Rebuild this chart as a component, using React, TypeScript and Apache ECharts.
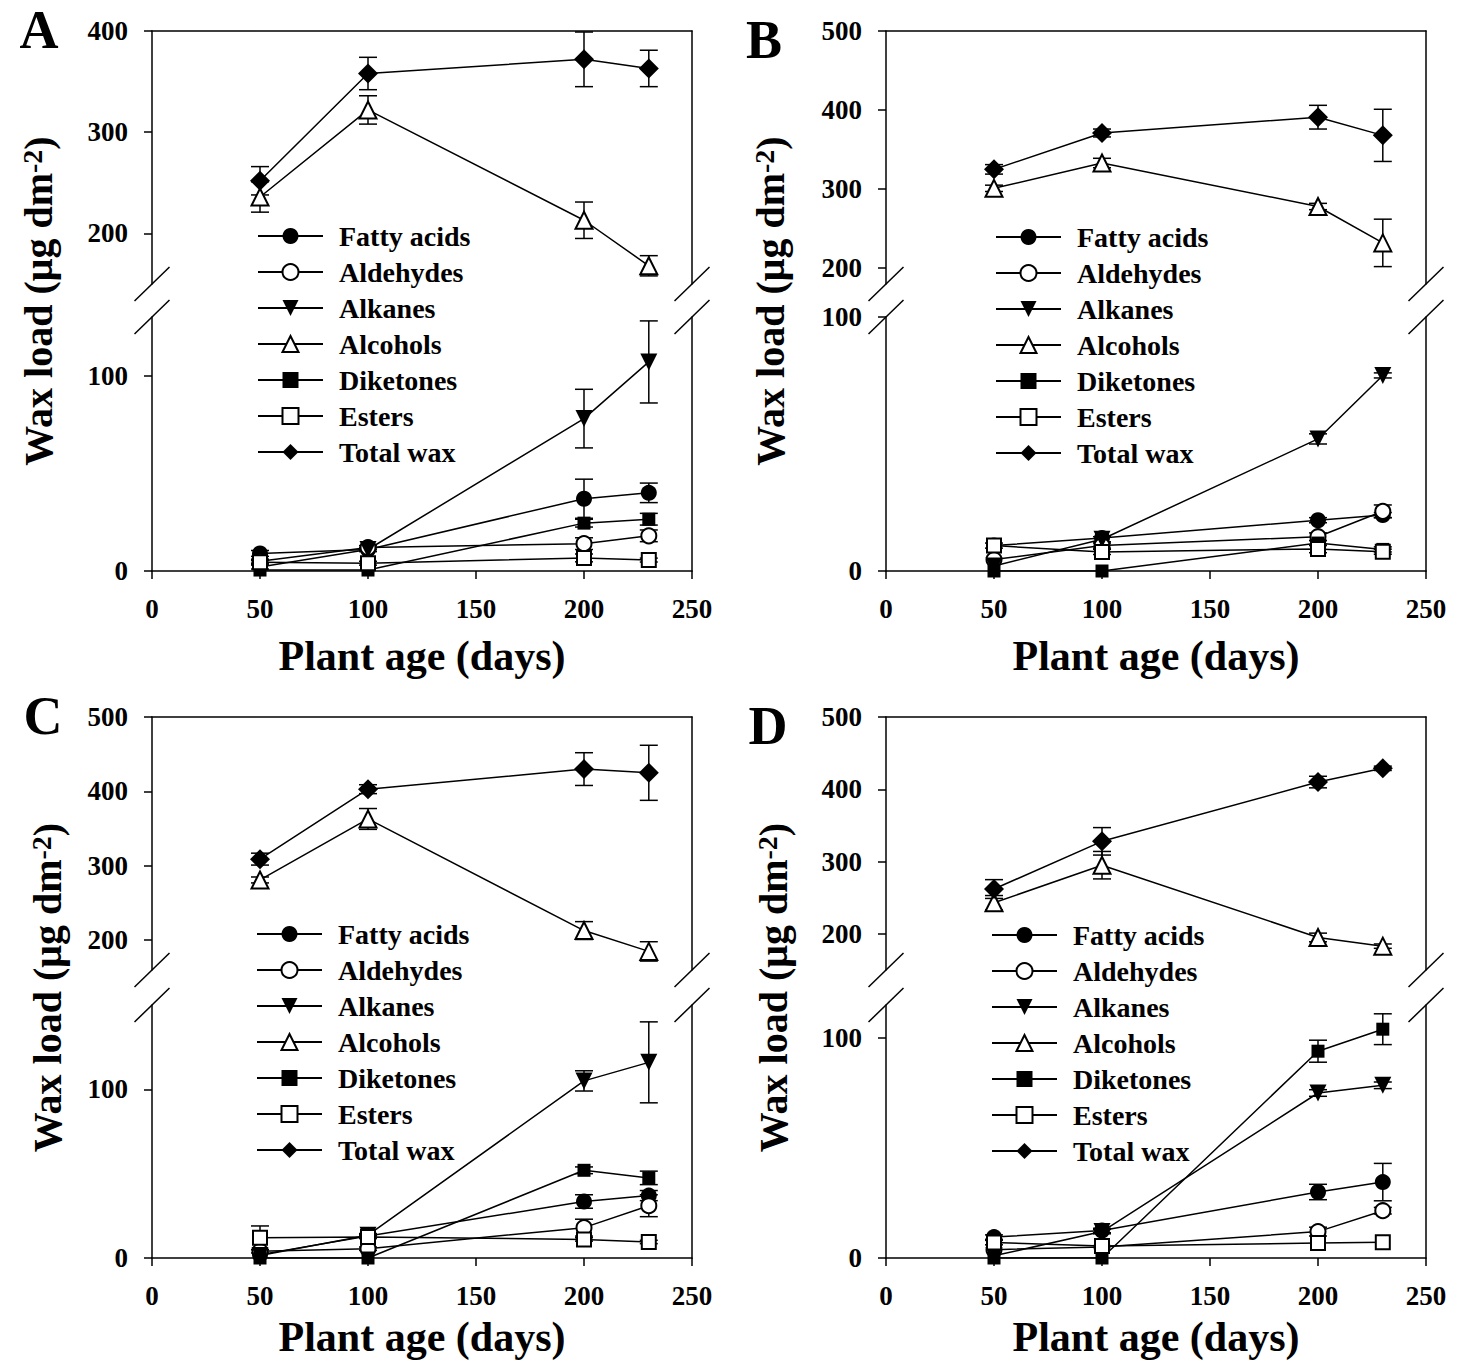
import React, { useEffect, useRef } from 'react';
import * as echarts from 'echarts';

const FONT = '"Liberation Serif", "Times New Roman", Times, serif';

const AGES = [50, 100, 200, 230];
const SERIES_NAMES = ['Fatty acids', 'Aldehydes', 'Alkanes', 'Alcohols', 'Diketones', 'Esters', 'Total wax'];
const LOWER_TICKS = [0, 100];
const UPPER_TICKS_A = [200, 300, 400];
const UPPER_TICKS_BCD = [200, 300, 400, 500];

// Panel A (means, error)
const A_FATTY = [9, 11, 37, 40];
const A_FATTY_ERR = [1.5, 1, 10, 5];
const A_ALDEHYDES = [5, 12, 14, 18];
const A_ALDEHYDES_ERR = [1, 1, 3, 3];
const A_ALKANES = [2, 11, 78, 107];
const A_ALKANES_ERR = [1, 1, 15, 21];
const A_ALCOHOLS = [236, 322, 213, 168];
const A_ALCOHOLS_ERR = [15, 14, 18, 10];
const A_DIKETONES = [0.5, 0.5, 24.5, 26.5];
const A_DIKETONES_ERR = [0.5, 0.5, 2, 3];
const A_ESTERS = [4.5, 4, 6.7, 5.6];
const A_ESTERS_ERR = [1, 1, 2, 1];
const A_TOTAL = [252, 358, 372, 363];
const A_TOTAL_ERR = [14, 16, 27, 18];

// Panel B
const B_FATTY = [10, 13, 20, 22];
const B_FATTY_ERR = [0.5, 0.5, 1, 1];
const B_ALDEHYDES = [4.5, 10, 13.5, 23.5];
const B_ALDEHYDES_ERR = [0.5, 1, 1.5, 2.5];
const B_ALKANES = [2, 12.5, 52, 77];
const B_ALKANES_ERR = [0.5, 1, 2, 1];
const B_ALCOHOLS = [301, 333, 278, 232];
const B_ALCOHOLS_ERR = [4, 6, 4, 30];
const B_DIKETONES = [0, 0, 11, 8.5];
const B_DIKETONES_ERR = [0.3, 0.3, 1, 1];
const B_ESTERS = [10, 7.5, 8.7, 7.6];
const B_ESTERS_ERR = [1, 1, 1.5, 1];
const B_TOTAL = [325, 371, 391, 368];
const B_TOTAL_ERR = [6, 5, 15, 33];

// Panel C
const C_FATTY = [2, 13, 33.5, 37];
const C_FATTY_ERR = [0.5, 1, 4, 3];
const C_ALDEHYDES = [4, 5.5, 18, 31];
const C_ALDEHYDES_ERR = [1, 1, 5, 6.5];
const C_ALKANES = [1.5, 13.5, 105, 116];
const C_ALKANES_ERR = [0.5, 1, 6, 24];
const C_ALCOHOLS = [281, 363, 213, 185];
const C_ALCOHOLS_ERR = [4, 14, 12, 13];
const C_DIKETONES = [0, 0, 52, 47.5];
const C_DIKETONES_ERR = [0.3, 0.3, 2, 4];
const C_ESTERS = [12, 12.5, 11, 9.5];
const C_ESTERS_ERR = [7, 1, 1, 1];
const C_TOTAL = [309, 403, 430, 425];
const C_TOTAL_ERR = [8, 6, 22, 37];

// Panel D
const D_FATTY = [9.5, 12.5, 30, 34.5];
const D_FATTY_ERR = [1, 1, 3.5, 8.5];
const D_ALDEHYDES = [3.8, 5, 12, 21.5];
const D_ALDEHYDES_ERR = [0.5, 0.5, 2, 1.5];
const D_ALKANES = [1, 12, 75, 78.5];
const D_ALKANES_ERR = [0.5, 1, 1.5, 1.5];
const D_ALCOHOLS = [243, 295, 195, 183];
const D_ALCOHOLS_ERR = [10, 19, 6, 3];
const D_DIKETONES = [0, 0, 94, 104];
const D_DIKETONES_ERR = [0.3, 0.3, 5, 7];
const D_ESTERS = [7, 5.5, 6.8, 7.2];
const D_ESTERS_ERR = [1, 0.5, 0.5, 0.5];
const D_TOTAL = [262, 328, 410, 429];
const D_TOTAL_ERR = [13, 19, 8, 3];

// layout (not data)
const ROWS = [
  { uTop: 31, uBot: 284, lTop: 317, lBot: 571, nameGap: 64 },
  { uTop: 717, uBot: 970, lTop: 1005, lBot: 1258, nameGap: 58 },
];
const COLS = [
  { left: 152, right: 692 },
  { left: 886, right: 1426 },
];

const STYLES = [
  { symbol: 'circle', size: 16, rotate: 0 },
  { symbol: 'emptyCircle', size: 15, rotate: 0 },
  { symbol: 'triangle', size: 17, rotate: 180 },
  { symbol: 'emptyTriangle', size: 17, rotate: 0 },
  { symbol: 'rect', size: 13, rotate: 0 },
  { symbol: 'emptyRect', size: 14, rotate: 0 },
  { symbol: 'diamond', size: 20, rotate: 0 },
];
const UPPER_SERIES = [3, 6];

const PANELS = [
  {
    letter: 'A', col: 0, row: 0, upper: [150, 400], upperTicks: UPPER_TICKS_A, lower: [0, 130],
    means: [A_FATTY, A_ALDEHYDES, A_ALKANES, A_ALCOHOLS, A_DIKETONES, A_ESTERS, A_TOTAL],
    errs: [A_FATTY_ERR, A_ALDEHYDES_ERR, A_ALKANES_ERR, A_ALCOHOLS_ERR, A_DIKETONES_ERR, A_ESTERS_ERR, A_TOTAL_ERR],
    letterPos: [39, 30], titleX: 38, legendPos: [257, 218],
  },
  {
    letter: 'B', col: 1, row: 0, upper: [180, 500], upperTicks: UPPER_TICKS_BCD, lower: [0, 100],
    means: [B_FATTY, B_ALDEHYDES, B_ALKANES, B_ALCOHOLS, B_DIKETONES, B_ESTERS, B_TOTAL],
    errs: [B_FATTY_ERR, B_ALDEHYDES_ERR, B_ALKANES_ERR, B_ALCOHOLS_ERR, B_DIKETONES_ERR, B_ESTERS_ERR, B_TOTAL_ERR],
    letterPos: [764, 40], titleX: 770, legendPos: [995, 219],
  },
  {
    letter: 'C', col: 0, row: 1, upper: [160, 500], upperTicks: UPPER_TICKS_BCD, lower: [0, 150],
    means: [C_FATTY, C_ALDEHYDES, C_ALKANES, C_ALCOHOLS, C_DIKETONES, C_ESTERS, C_TOTAL],
    errs: [C_FATTY_ERR, C_ALDEHYDES_ERR, C_ALKANES_ERR, C_ALCOHOLS_ERR, C_DIKETONES_ERR, C_ESTERS_ERR, C_TOTAL_ERR],
    letterPos: [43, 716], titleX: 47, legendPos: [256, 916],
  },
  {
    letter: 'D', col: 1, row: 1, upper: [150, 500], upperTicks: UPPER_TICKS_BCD, lower: [0, 115],
    means: [D_FATTY, D_ALDEHYDES, D_ALKANES, D_ALCOHOLS, D_DIKETONES, D_ESTERS, D_TOTAL],
    errs: [D_FATTY_ERR, D_ALDEHYDES_ERR, D_ALKANES_ERR, D_ALCOHOLS_ERR, D_DIKETONES_ERR, D_ESTERS_ERR, D_TOTAL_ERR],
    letterPos: [768, 726], titleX: 773, legendPos: [991, 917],
  },
];

const LINE = { color: '#000', width: 1.5 };

function buildOption() {
  const grid: any[] = [];
  const xAxis: any[] = [];
  const yAxis: any[] = [];
  const series: any[] = [];
  const legend: any[] = [];
  const graphic: any[] = [];

  const labelStyle = { fontFamily: FONT, fontWeight: 'bold', fontSize: 27, color: '#000' };

  PANELS.forEach((p) => {
    const col = COLS[p.col];
    const row = ROWS[p.row];
    const width = col.right - col.left;

    const segs = [
      { top: row.uTop, bot: row.uBot, range: p.upper, ticks: p.upperTicks, isUpper: true },
      { top: row.lTop, bot: row.lBot, range: p.lower, ticks: LOWER_TICKS, isUpper: false },
    ];
    const idx: { x: number; y: number }[] = [];
    segs.forEach((s) => {
      const g = grid.length;
      grid.push({ left: col.left, top: s.top, width, height: s.bot - s.top, outerBoundsMode: 'none', containLabel: false });
      const xi = xAxis.length;
      if (s.isUpper) {
        xAxis.push({
          gridIndex: g, type: 'value', min: 0, max: 250, position: 'top',
          axisLine: { show: true, onZero: false, lineStyle: LINE },
          axisTick: { show: false }, axisLabel: { show: false }, splitLine: { show: false },
        });
      } else {
        xAxis.push({
          gridIndex: g, type: 'value', min: 0, max: 250, interval: 50, position: 'bottom',
          axisLine: { show: true, onZero: false, lineStyle: LINE },
          axisTick: { show: true, inside: false, length: 8, lineStyle: LINE },
          axisLabel: { ...labelStyle, margin: 24 },
          splitLine: { show: false },
          name: 'Plant age (days)', nameLocation: 'middle', nameGap: row.nameGap,
          nameTextStyle: { fontFamily: FONT, fontWeight: 'bold', fontSize: 42, color: '#000' },
        });
      }
      const yi = yAxis.length;
      yAxis.push({
        gridIndex: g, type: 'value', min: s.range[0], max: s.range[1], position: 'left',
        axisLine: { show: true, onZero: false, lineStyle: LINE },
        axisTick: { show: true, inside: false, length: 8, lineStyle: LINE, customValues: s.ticks },
        axisLabel: { ...labelStyle, margin: 24, customValues: s.ticks },
        splitLine: { show: false },
      });
      yAxis.push({
        gridIndex: g, type: 'value', min: s.range[0], max: s.range[1], position: 'right',
        axisLine: { show: true, onZero: false, lineStyle: LINE },
        axisTick: { show: false }, axisLabel: { show: false }, splitLine: { show: false },
      });
      idx.push({ x: xi, y: yi });
    });

    SERIES_NAMES.forEach((name, k) => {
      const seg = UPPER_SERIES.includes(k) ? idx[0] : idx[1];
      const st = STYLES[k];
      const means = p.means[k];
      const errs = p.errs[k];
      series.push({
        type: 'custom', name: name + ' error', xAxisIndex: seg.x, yAxisIndex: seg.y, z: 1, silent: true,
        encode: { x: 0, y: [1, 2] },
        data: AGES.map((a, j) => [a, means[j] - errs[j], means[j] + errs[j]]).filter((_, j) => errs[j] > 0.6),
        renderItem: (params: any, api: any) => {
          const x = api.value(0);
          const lo = api.coord([x, api.value(1)]);
          const hi = api.coord([x, api.value(2)]);
          const hw = 9;
          const style = { stroke: '#000', lineWidth: 1.5 };
          return {
            type: 'group',
            children: [
              { type: 'line', shape: { x1: lo[0], y1: lo[1], x2: hi[0], y2: hi[1] }, style },
              { type: 'line', shape: { x1: hi[0] - hw, y1: hi[1], x2: hi[0] + hw, y2: hi[1] }, style },
              { type: 'line', shape: { x1: lo[0] - hw, y1: lo[1], x2: lo[0] + hw, y2: lo[1] }, style },
            ],
          };
        },
      });
      series.push({
        type: 'line', name, xAxisIndex: seg.x, yAxisIndex: seg.y, z: 3,
        data: AGES.map((a, j) => [a, means[j]]),
        symbol: st.symbol, symbolSize: st.size, symbolRotate: st.rotate,
        showAllSymbol: true,
        lineStyle: { color: '#000', width: 1.5 },
        itemStyle: { color: '#000' },
        emphasis: { disabled: true },
      });
    });

    legend.push({
      data: SERIES_NAMES, orient: 'vertical', left: p.legendPos[0], top: p.legendPos[1],
      itemWidth: 65, itemHeight: 20, itemGap: 0, padding: 0, selectedMode: false,
      textStyle: { fontFamily: FONT, fontWeight: 'bold', fontSize: 28, color: '#000', lineHeight: 36, padding: [0, 0, 0, 11] },
    });

    // axis break marks
    [col.left, col.right].forEach((x) => {
      [row.uBot, row.lTop].forEach((y) => {
        graphic.push({
          type: 'line', silent: true,
          shape: { x1: x - 17.5, y1: y + 17, x2: x + 17.5, y2: y - 17 },
          style: { stroke: '#000', lineWidth: 1.5 },
        });
      });
    });

    graphic.push({
      type: 'text', x: p.letterPos[0], y: p.letterPos[1], silent: true,
      style: { text: p.letter, font: `bold 54px ${FONT}`, fill: '#000', align: 'center', verticalAlign: 'middle' },
    });
    graphic.push({
      type: 'text', x: p.titleX, y: (row.uTop + row.lBot) / 2, rotation: Math.PI / 2, silent: true,
      style: {
        text: '{t|Wax load (μg dm}{s|-2}{t|)}',
        align: 'center', verticalAlign: 'middle',
        rich: {
          t: { fontFamily: FONT, fontWeight: 'bold', fontSize: 40, fill: '#000' },
          s: { fontFamily: FONT, fontWeight: 'bold', fontSize: 28, fill: '#000', verticalAlign: 'top' },
        },
      },
    });
  });

  return {
    animation: false,
    backgroundColor: '#fff',
    textStyle: { fontFamily: FONT },
    grid, xAxis, yAxis, series, legend, graphic,
  };
}

export default function App() {
  const ref = useRef<HTMLDivElement>(null);
  useEffect(() => {
    if (!ref.current) return;
    const chart = echarts.init(ref.current, undefined, { renderer: 'svg' });
    chart.setOption(buildOption() as any);
    return () => chart.dispose();
  }, []);
  return (
    <div
      ref={ref}
      style={{ position: 'absolute', left: 0, top: 0, width: 1466, height: 1363, background: '#fff' }}
    />
  );
}
